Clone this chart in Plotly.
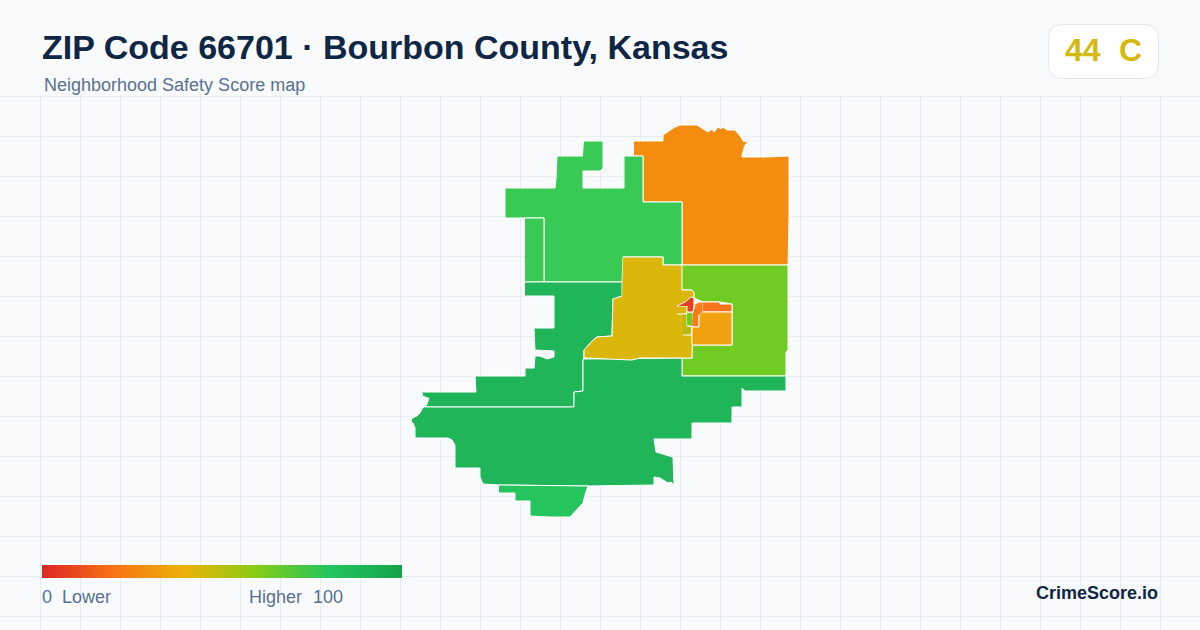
import plotly.graph_objects as go

# Map outlines (x, y in map units)
north_x = [634, 663, 663, 670, 675, 680, 692, 697, 700, 705, 708, 712, 714, 718, 721, 723, 727, 735, 738, 741, 743, 748, 745, 744, 742, 742, 765, 789, 789, 788, 682, 682, 643, 643, 634]
north_y = [141, 141, 135, 130, 127, 125, 125, 125, 127, 130, 132, 129, 132, 127, 129, 127, 130, 130, 134, 137, 141, 142, 145, 148, 155, 157, 157, 156, 218, 265, 265, 202, 202, 156, 156]

northwest_x = [584, 603, 603, 600, 583, 583, 624, 624, 643, 643, 682, 682, 663, 663, 623, 622, 544, 544, 505, 505, 555, 556, 557, 583]
northwest_y = [141, 141, 168, 171, 171, 188, 188, 156, 156, 202, 202, 265, 265, 257, 257, 282, 282, 218, 218, 188, 188, 178, 156, 156]

strip_x = [525, 544, 544, 525]
strip_y = [218, 218, 282, 282]

center_x = [623, 663, 663, 682, 682, 692, 694, 694, 693, 692, 692, 640, 632, 584, 584, 588, 592, 597, 612, 613, 622]
center_y = [257, 257, 265, 265, 290, 290, 293, 298, 312, 345, 358, 358, 360, 358, 350, 346, 341, 337, 336, 299, 296]

east_x = [682, 788, 788, 786, 786, 682, 682, 692, 692, 732, 732, 720, 703, 694, 694, 692, 682]
east_y = [265, 265, 350, 352, 376, 376, 358, 358, 345, 345, 304, 302, 302, 298, 293, 290, 290]

west_x = [525, 622, 622, 613, 612, 597, 592, 588, 584, 584, 583, 583, 574, 574, 425, 427, 428, 429, 427, 425, 421, 423, 421, 476, 475, 525, 525, 534, 535, 540, 547, 554, 554, 535, 534, 554, 554, 525]
west_y = [282, 282, 296, 299, 336, 337, 341, 346, 350, 358, 360, 391, 392, 407, 407, 404, 401, 398, 398, 397, 395, 394, 392, 392, 376, 376, 368, 368, 356, 356, 359, 357, 351, 350, 328, 328, 296, 296]

south_x = [425, 574, 574, 583, 583, 682, 682, 786, 786, 745, 742, 742, 732, 732, 692, 692, 654, 655, 656, 666, 673, 674, 671, 668, 660, 654, 654, 588, 499, 483, 480, 480, 455, 455, 452, 448, 415, 415, 413, 411, 412, 417, 420, 422]
south_y = [407, 407, 392, 391, 359, 358, 376, 376, 391, 391, 388, 407, 407, 423, 423, 439, 439, 444, 452, 455, 457, 485, 482, 483, 478, 477, 485, 486, 485, 484, 477, 468, 468, 445, 440, 438, 438, 428, 423, 421, 418, 416, 413, 409]

bottom_x = [499, 588, 585, 583, 570, 549, 530, 530, 515, 515, 499]
bottom_y = [485, 486, 495, 503, 517, 517, 516, 501, 501, 493, 493]

town_red_x = [677, 685, 691, 694, 694, 693, 687, 687]
town_red_y = [306, 302, 297, 298, 306, 312, 312, 306]
town_block_x = [677, 687, 687, 677]
town_block_y = [306, 306, 314, 314]
town_olive_x = [683, 687, 687, 693, 692, 691, 683]
town_olive_y = [314, 314, 326, 326, 327, 335, 335]
town_lime_x = [687, 693, 693, 687]
town_lime_y = [312, 312, 326, 326]
town_orange_x = [693, 695, 699, 703, 703, 699, 699, 692]
town_orange_y = [312, 304, 302, 302, 312, 315, 327, 327]
town_ne_x = [703, 720, 720, 732, 732, 703]
town_ne_y = [302, 302, 304, 304, 312, 312]
town_se_x = [703, 732, 732, 692, 692, 699, 699]
town_se_y = [312, 312, 345, 345, 327, 327, 315]

region_outlines = [
    (north_x, north_y, "#f48d0f"),
    (northwest_x, northwest_y, "#39c955"),
    (strip_x, strip_y, "#39c955"),
    (east_x, east_y, "#70cc22"),
    (west_x, west_y, "#20b558"),
    (south_x, south_y, "#20b558"),
    (bottom_x, bottom_y, "#25c45c"),
    (center_x, center_y, "#dbb70b"),
    (town_block_x, town_block_y, "#dbb70b"),
    (town_olive_x, town_olive_y, "#b3b812"),
    (town_lime_x, town_lime_y, "#70cc22"),
    (town_orange_x, town_orange_y, "#f97a18"),
    (town_ne_x, town_ne_y, "#f7741a"),
    (town_se_x, town_se_y, "#f1a10f"),
    (town_red_x, town_red_y, "#e5401f"),
]

# Legend ramp
legend_scores = [0, 20, 40, 60, 80, 100]
legend_colors = ["#dc2626", "#f97316", "#eab308", "#84cc16", "#22c55e", "#16a34a"]
legend_bar_x = [42, 402, 402, 42]
legend_bar_y = [565, 565, 578, 578]

grid_x = list(range(0, 1201, 40))
grid_y = list(range(96, 631, 40))

BG = "#f8fafc"
GRID = "#e6edf2"
NAVY = "#0f2744"
SLATE = "#5a7190"
YELLOW = "#d4b80f"


def px(x):
    return x / 1200


def py(y):
    return 1 - y / 630


fig = go.Figure()

for xs, ys, color in region_outlines:
    fig.add_trace(go.Scatter(
        x=xs, y=ys, mode="lines", fill="toself", fillcolor=color,
        line={"color": "white", "width": 1}, hoverinfo="skip", showlegend=False,
    ))

fig.add_trace(go.Scatter(
    x=legend_bar_x, y=legend_bar_y, mode="none", fill="toself",
    fillgradient={
        "type": "horizontal", "start": 42, "stop": 402,
        "colorscale": [[s / 100, c] for s, c in zip(legend_scores, legend_colors)],
    },
    hoverinfo="skip", showlegend=False,
))

texts = [
    (40, 47, "ZIP Code 66701 · Bourbon County, Kansas", 34, NAVY, True),
    (42, 85, "Neighborhood Safety Score map", 18, SLATE, False),
    (1063, 50, "44", 32, YELLOW, True),
    (1116.5, 50, "C", 32, YELLOW, True),
    (40, 597, "0", 18, SLATE, False),
    (60, 597, "Lower", 18, SLATE, False),
    (247, 597, "Higher", 18, SLATE, False),
    (311, 597, "100", 18, SLATE, False),
    (1034, 593, "CrimeScore.io", 18, NAVY, True),
]
annotations = [
    dict(
        x=px(x), y=py(y), xref="paper", yref="paper", text=f"<b>{t}</b>" if bold else t,
        xanchor="left", yanchor="middle", showarrow=False,
        font={"family": "Liberation Sans", "size": size, "color": color},
    )
    for x, y, t, size, color, bold in texts
]

# badge top right, rounded corners
L, R, T, B, C = 1048.5, 1158.5, 24.5, 78.5, 14
badge_path = (
    f"M {px(L + C)} {py(T)} L {px(R - C)} {py(T)} Q {px(R)} {py(T)} {px(R)} {py(T + C)} "
    f"L {px(R)} {py(B - C)} Q {px(R)} {py(B)} {px(R - C)} {py(B)} "
    f"L {px(L + C)} {py(B)} Q {px(L)} {py(B)} {px(L)} {py(B - C)} "
    f"L {px(L)} {py(T + C)} Q {px(L)} {py(T)} {px(L + C)} {py(T)} Z"
)

fig.update_layout(
    width=1200, height=630,
    margin={"l": 0, "r": 0, "t": 0, "b": 0},
    paper_bgcolor=BG, plot_bgcolor=BG,
    xaxis={
        "range": [0, 1200], "domain": [0, 1], "tickvals": [v + 0.5 for v in grid_x],
        "showgrid": True, "gridcolor": GRID, "gridwidth": 1,
        "showticklabels": False, "zeroline": False, "showline": False, "ticks": "",
    },
    yaxis={
        "range": [630, 95], "domain": [0, 535 / 630], "tickvals": [v + 0.5 for v in grid_y],
        "showgrid": True, "gridcolor": GRID, "gridwidth": 1,
        "showticklabels": False, "zeroline": False, "showline": False, "ticks": "",
    },
    shapes=[{
        "type": "path", "path": badge_path, "xref": "paper", "yref": "paper",
        "fillcolor": "white", "line": {"color": "#e2e8f0", "width": 1},
    }],
    annotations=annotations,
)

fig.write_html("out.html", config={"displayModeBar": False},
               post_script="document.body.style.margin='0';")
